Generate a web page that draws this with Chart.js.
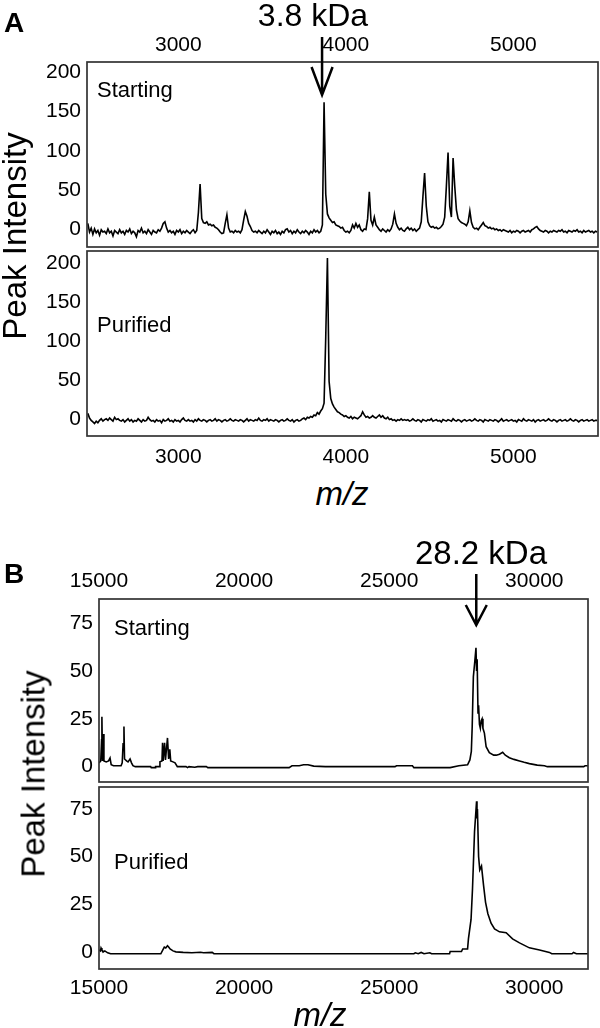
<!DOCTYPE html>
<html>
<head>
<meta charset="utf-8">
<script src="https://cdn.jsdelivr.net/npm/chart.js@4.4.1/dist/chart.umd.min.js"></script>
<style>
  html, body { margin: 0; padding: 0; background: #fff; }
  body { width: 600px; height: 1028px; position: relative; overflow: hidden;
         font-family: "Liberation Sans", Arial, sans-serif; }
  canvas { position: absolute; left: 0; }
  .t { position: absolute; line-height: 1; white-space: nowrap; color: #000; z-index: 2; }
  .rot { transform: translate(-50%, -50%) rotate(-90deg); }
  .mid { transform: translateX(-50%); }
</style>
</head>
<body>
<canvas id="a1" width="600" height="250" style="top:0px"></canvas>
<canvas id="a2" width="600" height="225" style="top:250px"></canvas>
<canvas id="b1" width="600" height="253" style="top:530px"></canvas>
<canvas id="b2" width="600" height="242" style="top:786px"></canvas>

<div class="t" style="left:4px;top:9px;font-size:28px;font-weight:bold">A</div>
<div class="t mid" style="left:313px;top:-1px;font-size:32px">3.8 kDa</div>
<div class="t" style="left:97px;top:79px;font-size:22px">Starting</div>
<div class="t" style="left:97px;top:314px;font-size:22px">Purified</div>
<div class="t rot" style="left:14px;top:236px;font-size:33px">Peak Intensity</div>
<div class="t mid" style="left:342px;top:477px;font-size:33px;font-style:italic">m/z</div>

<div class="t" style="left:4px;top:560px;font-size:28px;font-weight:bold">B</div>
<div class="t mid" style="left:481px;top:536px;font-size:33px">28.2 kDa</div>
<div class="t" style="left:114px;top:617px;font-size:22px">Starting</div>
<div class="t" style="left:114px;top:851px;font-size:22px">Purified</div>
<div class="t rot" style="left:33px;top:774px;font-size:33px">Peak Intensity</div>
<div class="t mid" style="left:320px;top:998px;font-size:33px;font-style:italic">m/z</div>

<script>
// Panel A: m/z grid (start, step 10) and peak intensities
const A_MZ_START = 2460;
const A_MZ_STEP = 10;

const A_STARTING = [
  8, -3, 2, -6, 1, -4, -1, -7, 0, -3,        // 2460
  -2, -5, 1, -4, -2, -8, -1, -3, -5, 0,      // 2560
  -4, -2, -6, -1, -3, 1, -5, -2, -4, -9,     // 2660
  -1, -3, 2, -4, -2, -5, 0, -3, -6, -1,      // 2760
  -3, -4, 0, -2, 2, 8, 10, 2, -3, -1,        // 2860
  -4, -2, -6, -1, -3, 0, -5, -2, -4, -1,     // 2960
  -3, -5, -2, 0, -4, -1, 22, 58, 14, 9,      // 3060
  8, 10, 6, 7, 5, 6, 3, 2, 0, -3,            // 3160
  -5, -4, 8, 19, 2, -3, -2, -4, -1, -3,      // 3260
  -2, -4, 0, 12, 23, 17, 8, 4, -1, -3,       // 3360
  -2, -4, -1, -3, -5, -2, -4, 0, -3, -6,     // 3460
  -2, -4, -1, -5, -3, -6, -2, -4, 0, 1,      // 3560
  -3, -1, -5, -2, -4, 0, -3, -5, -2, -4,     // 3660
  -1, -3, -6, -2, -4, 0, -3, -1, -4, -2,     // 3760
  6, 162, 45, 20, 15, 12, 9, 10, 6, 5,       // 3860
  4, 2, 3, -1, -3, -2, -4, -1, 6, 2,         // 3960
  8, 3, 6, 0, -2, 1, 0, 14, 48, 12,          // 4060
  6, 16, 6, 3, 0, -2, 1, -1, -3, 0,          // 4160
  -2, 1, 7, 20, 8, 3, 0, 2, -1, -2,          // 4260
  1, 3, 0, 2, -1, 1, -2, 0, 2, 10,           // 4360
  42, 72, 30, 10, 5, 3, 4, 2, 3, 1,          // 4460
  2, 4, 7, 16, 55, 98, 30, 16, 91, 55,       // 4560
  25, 14, 11, 9, 8, 7, 5, 10, 24, 9,         // 4660
  3, 1, 2, 0, 3, 6, 9, 5, 4, 2,              // 4760
  3, 1, 2, 0, 1, -1, 0, -2, 0, -1,           // 4860
  -2, -3, -1, -4, -2, -3, -1, -2, -4, -2,    // 4960
  -1, -3, -2, -1, -3, 0, 1, 3, 4, 1,         // 5060
  -1, -2, -3, -1, -2, -4, -2, -3, -1, -2,    // 5160
  -3, -1, -2, 0, -3, -2, -4, -1, -2, -3,     // 5260
  -1, -2, 0, -3, -2, -4, -1, -3, -2, -1,     // 5360
  -3, -2, -4, -2, -3                          // 5460
];

const A_PURIFIED = [
  7, 1, -2, -4, -6, -3, -5, -2, 0, -3,       // 2460
  -1, 0, -2, 1, -1, -3, 2, -1, 0, -2,        // 2560
  -3, -1, -4, -2, 0, -3, -1, -4, -2, -3,     // 2660
  0, -2, -4, -1, -3, -2, 2, -1, -3, -2,      // 2760
  -4, -1, -3, -2, -5, -1, -3, -2, 0, -3,     // 2860
  -2, -4, -1, -3, -2, -4, -1, 1, -2, -3,     // 2960
  -1, -3, -2, -4, -1, -3, 0, -2, -3, -1,     // 3060
  -2, -4, -2, -1, -3, -2, 0, -3, -1, -2,     // 3160
  -4, -2, -1, -3, -2, 0, -2, -3, -1, -2,     // 3260
  -3, -1, -2, -4, -2, 0, -3, -1, -2, -3,     // 3360
  -1, -2, 1, -2, -3, -1, -2, 0, -3, -1,      // 3460
  -2, -3, -1, -2, -4, -2, -1, -3, -2, 0,     // 3560
  -2, -3, -1, -4, -2, -1, -3, -2, 0, 1,      // 3660
  -1, 2, 1, 3, 2, 5, 4, 8, 6, 10,            // 3760
  13, 20, 105, 206, 48, 26, 19, 15, 12, 9,   // 3860
  8, 6, 5, 3, 4, 2, 1, 3, 0, 2,              // 3960
  1, 0, 2, 4, 9, 5, 2, 3, 1, 2,              // 4060
  4, 2, 1, 3, 5, 2, 4, 1, 0, 2,              // 4160
  -1, 0, -2, -1, -3, -1, -2, 0, -2, -1,      // 4260
  -2, -1, -3, -2, 0, -2, -3, -1, -2, -4,     // 4360
  -1, -2, -3, -1, -2, 0, -3, -2, -1, -3,     // 4460
  -2, -4, -1, -2, -3, -1, -2, -3, 0, -2,     // 4560
  -3, -1, -2, -4, -2, -1, -3, -2, -1, -3,    // 4660
  -2, 0, -2, -3, -1, -2, -4, -1, -2, -3,     // 4760
  -1, -2, -3, -1, -2, -4, -2, 0, -3, -2,     // 4860
  -1, -3, -2, -1, -3, -2, -4, -1, -2, -3,    // 4960
  0, -2, -3, -1, -2, -3, -1, -4, -2, -1,     // 5060
  -3, -2, -1, -3, -2, 0, -2, -3, -1, -2,     // 5160
  -4, -2, -1, -3, -2, -1, -3, -2, 0, -2,     // 5260
  -3, -1, -2, -4, -2, -1, -3, -2, -1, -3,    // 5360
  -2, -1, -3, -2, -2                          // 5460
];

const A_X_TICKS = [3000, 4000, 5000];
const A_Y_TICKS = [0, 50, 100, 150, 200];
const A_ARROW_MZ = 3858;

// Panel B: m/z points and intensities
const B_STARTING_MZ = [
  15000, 15060, 15090, 15100, 15120, 15150, 15170, 15250, 15330, 15380, 15420, 15500,
  15760, 15800, 15830, 15860, 15880, 15950, 16000, 16070, 16120, 16170, 16250, 16780,
  16800, 16930, 16950, 17080, 17100, 17170, 17190, 17210, 17260, 17290, 17360, 17400,
  17440, 17470, 17550, 17620, 17700, 18000, 18050, 18100, 18300, 18400, 18700, 18750,
  21550, 21650, 21900, 22050, 22200, 22400, 22800, 25200, 25250, 25800, 25850, 27100,
  27400, 27700, 27780, 27830, 27860, 27900, 27950, 27990, 28010, 28030, 28060, 28080,
  28110, 28140, 28170, 28200, 28230, 28280, 28340, 28450, 28600, 28690, 28800, 28910,
  29000, 29140, 29300, 29490, 29650, 29830, 30100, 30350, 30450, 31700, 31750, 31900
];
const B_STARTING = [
  2, 3, 14, 26, 3, 17, 3, 2.5, 3, 4.5, 1, 0.5,
  0.5, 2, 12, 21, 4, 3, 2.5, 4, 2, 0.5, 0, 0,
  -0.5, -0.5, 0, 0, 2.5, 3, 12.5, 3, 12.5, 3.5, 15, 4,
  9, 3, 2.5, 2, 0, 0, -0.5, 0, -0.3, 0, 0, -0.5,
  -0.5, 0.5, 0.5, 1, 1, 0.3, 0, 0, 0.5, 0.5, -0.5, -0.5,
  0.5, 1, 3.5, 8, 21, 47, 55, 62, 50, 56, 28, 32,
  22, 20, 24, 25, 20, 17.5, 10.4, 7.3, 6, 6, 6.5, 7.5,
  6, 4.7, 3.8, 3, 2.3, 1.6, 0.8, 0.5, 0, 0, 0.5, 0.5
];

const B_PURIFIED_MZ = [
  15000, 15050, 15070, 15100, 15150, 15200, 15300, 15400, 15550, 17130, 17200, 17250,
  17300, 17360, 17400, 17450, 17550, 17650, 17900, 18200, 18500, 18600, 18900, 18960,
  25850, 25900, 26000, 26100, 26200, 26400, 26460, 27080, 27100, 27490, 27530, 27700,
  27730, 27820, 27870, 27940, 28010, 28025, 28040, 28080, 28120, 28180, 28250, 28320,
  28400, 28510, 28630, 28800, 29030, 29250, 29490, 29830, 30180, 30520, 30600, 31300,
  31350, 31450, 31900
];
const B_PURIFIED = [
  1, 0.5, 2, 1, 0, 0.5, -0.5, -1, -1, -1, 1, 2.5,
  2, 3.2, 2.5, 1.5, 0.5, 0, -0.3, -0.5, -0.2, -0.5, -0.3, -1,
  -1, -0.5, -1, -0.3, -1, -0.5, -1, -1, 0.2, 0.2, 1.5, 1.5,
  6.8, 17, 33, 63, 79, 70, 75, 50, 43, 45, 35, 26,
  20, 15, 12, 10.5, 10, 6.8, 4.7, 2.1, 1, -0.3, -1, -1,
  -0.3, -1, -1
];

const B_X_TICKS = [15000, 20000, 25000, 30000];
const B_Y_TICKS = [0, 25, 50, 75];
const B_ARROW_MZ = 28000;

const TICK_FONT = { family: '"Liberation Sans", Arial, sans-serif', size: 21 };

function gridPoints(start, step, values) {
  return values.map((v, i) => ({ x: start + i * step, y: v }));
}

function pairPoints(mz, values) {
  return mz.map((m, i) => ({ x: m, y: values[i] }));
}

// box around the plot area + optional down arrow over the peak
const panelExtras = {
  id: 'panelExtras',
  afterDraw(chart, args, opts) {
    const { ctx, chartArea: a } = chart;
    ctx.save();
    ctx.strokeStyle = '#333';
    ctx.lineWidth = 1.7;
    ctx.strokeRect(a.left, a.top, a.right - a.left, a.bottom - a.top);
    if (opts.arrowMz) {
      const x = chart.scales.x.getPixelForValue(opts.arrowMz);
      ctx.strokeStyle = '#000';
      ctx.lineWidth = 2.5;
      ctx.beginPath();
      ctx.moveTo(x, opts.arrowTop);
      ctx.lineTo(x, opts.arrowTip);
      ctx.moveTo(x - 10.5, opts.arrowHead);
      ctx.lineTo(x, opts.arrowTip);
      ctx.lineTo(x + 10.5, opts.arrowHead);
      ctx.stroke();
    }
    ctx.restore();
  }
};

/**
 * Draws one spectrum panel.
 * @param {string} canvasId - canvas element id
 * @param {Array} points - {x, y} points
 * @param {Object} cfg - axis ranges and layout of the panel
 */
function drawSpectrum(canvasId, points, cfg) {
  const canvas = document.getElementById(canvasId);
  if (!canvas) return;
  const ctx = canvas.getContext('2d');

  new Chart(ctx, {
    type: 'line',
    data: {
      datasets: [{
        data: points,
        borderColor: '#000',
        borderWidth: 1.6,
        pointRadius: 0,
        tension: 0,
        fill: false
      }]
    },
    options: {
      responsive: false,
      animation: false,
      events: [],
      layout: { padding: cfg.padding },
      plugins: {
        legend: { display: false },
        tooltip: { enabled: false },
        panelExtras: cfg.arrow || {}
      },
      scales: {
        x: {
          type: 'linear',
          position: cfg.xPosition,
          min: cfg.xMin,
          max: cfg.xMax,
          grid: { display: false, drawTicks: false },
          border: { display: false },
          ticks: {
            autoSkip: false, maxRotation: 0, padding: cfg.xTickPadding,
            color: '#000', font: TICK_FONT, callback: v => String(v)
          },
          afterBuildTicks: s => { s.ticks = cfg.xTicks.map(v => ({ value: v })); },
          afterFit: s => {
            s.height = cfg.xHeight;
            s.paddingLeft = 0; s.paddingRight = 0;
          }
        },
        y: {
          type: 'linear',
          min: cfg.yMin,
          max: cfg.yMax,
          grid: { display: false, drawTicks: false },
          border: { display: false },
          ticks: {
            padding: 6, color: '#000', font: TICK_FONT, callback: v => String(v)
          },
          afterBuildTicks: s => { s.ticks = cfg.yTicks.map(v => ({ value: v })); },
          afterFit: s => {
            s.width = cfg.yWidth;
            s.paddingTop = 0; s.paddingBottom = 0;
          }
        }
      }
    },
    plugins: [panelExtras]
  });
}

drawSpectrum('a1', gridPoints(A_MZ_START, A_MZ_STEP, A_STARTING), {
  padding: { top: 0, bottom: 3, left: 0, right: 2 },
  xPosition: 'top', xHeight: 62, xTickPadding: 4, yWidth: 87,
  xMin: 2455, xMax: 5505, yMin: -22, yMax: 213,
  xTicks: A_X_TICKS, yTicks: A_Y_TICKS,
  arrow: { arrowMz: A_ARROW_MZ, arrowTop: 37, arrowHead: 67, arrowTip: 95 }
});

drawSpectrum('a2', gridPoints(A_MZ_START, A_MZ_STEP, A_PURIFIED), {
  padding: { top: 1, bottom: 0, left: 0, right: 2 },
  xPosition: 'bottom', xHeight: 39, xTickPadding: 9, yWidth: 87,
  xMin: 2455, xMax: 5505, yMin: -22, yMax: 215,
  xTicks: A_X_TICKS, yTicks: A_Y_TICKS
});

drawSpectrum('b1', pairPoints(B_STARTING_MZ, B_STARTING), {
  padding: { top: 0, bottom: 1, left: 0, right: 12 },
  xPosition: 'top', xHeight: 69, xTickPadding: 5, yWidth: 99,
  xMin: 15000, xMax: 31850, yMin: -8, yMax: 87.5,
  xTicks: B_X_TICKS, yTicks: B_Y_TICKS,
  arrow: { arrowMz: B_ARROW_MZ, arrowTop: 44, arrowHead: 75, arrowTip: 95 }
});

drawSpectrum('b2', pairPoints(B_PURIFIED_MZ, B_PURIFIED), {
  padding: { top: 1, bottom: 0, left: 0, right: 12 },
  xPosition: 'bottom', xHeight: 59, xTickPadding: 7, yWidth: 99,
  xMin: 15000, xMax: 31850, yMin: -9, yMax: 86.5,
  xTicks: B_X_TICKS, yTicks: B_Y_TICKS
});
</script>
</body>
</html>
